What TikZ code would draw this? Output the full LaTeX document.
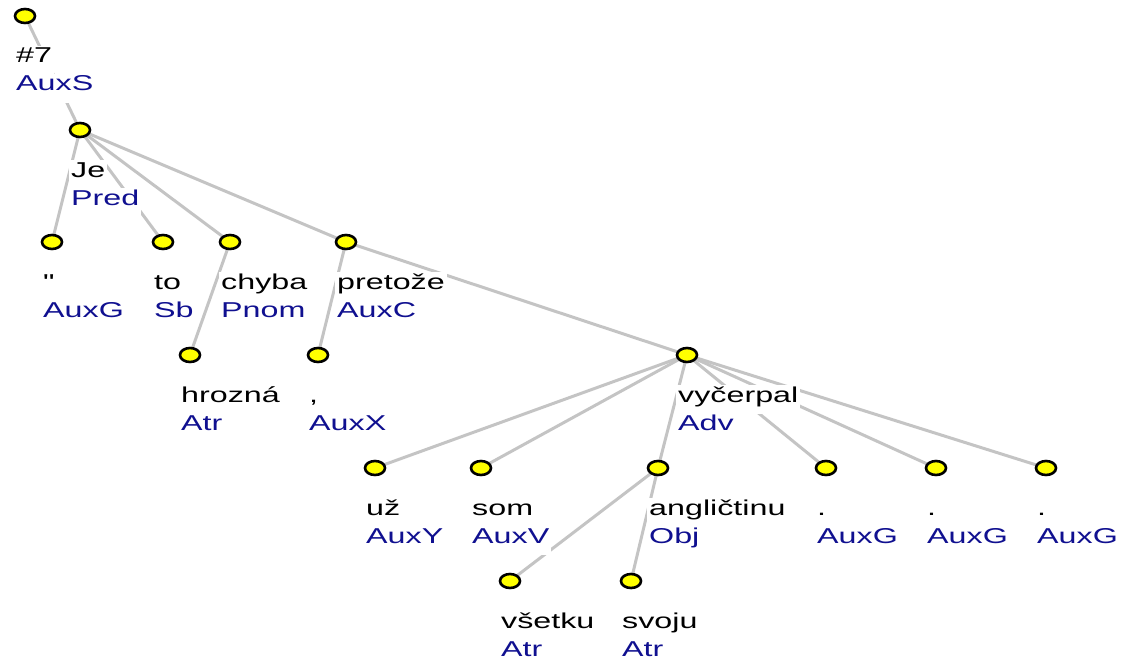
\documentclass[tikz,border=0pt]{standalone}
\usepackage{fontspec}
\setmainfont{Liberation Sans}[FakeStretch=1.5]
\newfontfamily\rawsans{Liberation Sans}[FakeStretch=1.5,Ligatures=TeXOff]
\usetikzlibrary{shapes.geometric}
\pgfdeclarelayer{bg}
\pgfsetlayers{bg,main}
\definecolor{edgegray}{RGB}{196,196,196}
\definecolor{funcblue}{RGB}{16,16,144}
\definecolor{nodeyellow}{RGB}{255,255,0}
\tikzset{
  tn/.style={ellipse, draw=black, fill=nodeyellow, line width=2.6pt,
    inner sep=0pt, minimum width=20pt, minimum height=14pt},
  lbl/.style={anchor=base west, fill=white, inner xsep=2pt, inner ysep=2pt,
    text height=15pt, text depth=10pt, font=\fontsize{21.5}{26}\selectfont},
  wd/.style={lbl, text=black},
  fn/.style={lbl, text=funcblue},
  edge/.style={draw=edgegray, line width=3pt}
}
\newcommand\tnode[5]{%
  \node[tn] (#1) at (#2,#3) {};
  \node[wd] (#1w) at ({#2-11},{#3+47}) {#4};
  \node[fn] (#1f) at ({#2-11},{#3+75}) {#5};}
\begin{document}
\begin{tikzpicture}[x=1pt,y=-1pt]
\useasboundingbox (0,0) rectangle (1121,658);
\tnode{root}{25}{16}{\#7}{AuxS}
\tnode{je}{80}{130}{Je}{Pred}
\tnode{quo}{52}{242}{{\rawsans"}}{AuxG}
\tnode{to}{163}{242}{to}{Sb}
\tnode{chyba}{230}{242}{chyba}{Pnom}
\tnode{pretoze}{346}{242}{pretože}{AuxC}
\tnode{hrozna}{190}{355}{hrozná}{Atr}
\tnode{comma}{318}{355}{,}{AuxX}
\tnode{vycerpal}{687}{355}{vyčerpal}{Adv}
\tnode{uz}{375}{468}{už}{AuxY}
\tnode{som}{481}{468}{som}{AuxV}
\tnode{anglictinu}{658}{468}{angličtinu}{Obj}
\tnode{dotA}{826}{468}{.}{AuxG}
\tnode{dotB}{936}{468}{.}{AuxG}
\tnode{dotC}{1046}{468}{.}{AuxG}
\begin{scope}[fn/.append style={text depth=0pt, inner ysep=0pt}]
\tnode{vsetku}{510}{581}{všetku}{Atr}
\tnode{svoju}{631}{581}{svoju}{Atr}
\end{scope}
\begin{pgfonlayer}{bg}
\foreach \a/\b in {root/je, je/quo, je/to, je/chyba, je/pretoze,
  chyba/hrozna, pretoze/comma, pretoze/vycerpal,
  vycerpal/uz, vycerpal/som, vycerpal/anglictinu,
  vycerpal/dotA, vycerpal/dotB, vycerpal/dotC,
  anglictinu/vsetku, anglictinu/svoju}
  \draw[edge] (\a.center) -- (\b.center);
\end{pgfonlayer}
\end{tikzpicture}
\end{document}
